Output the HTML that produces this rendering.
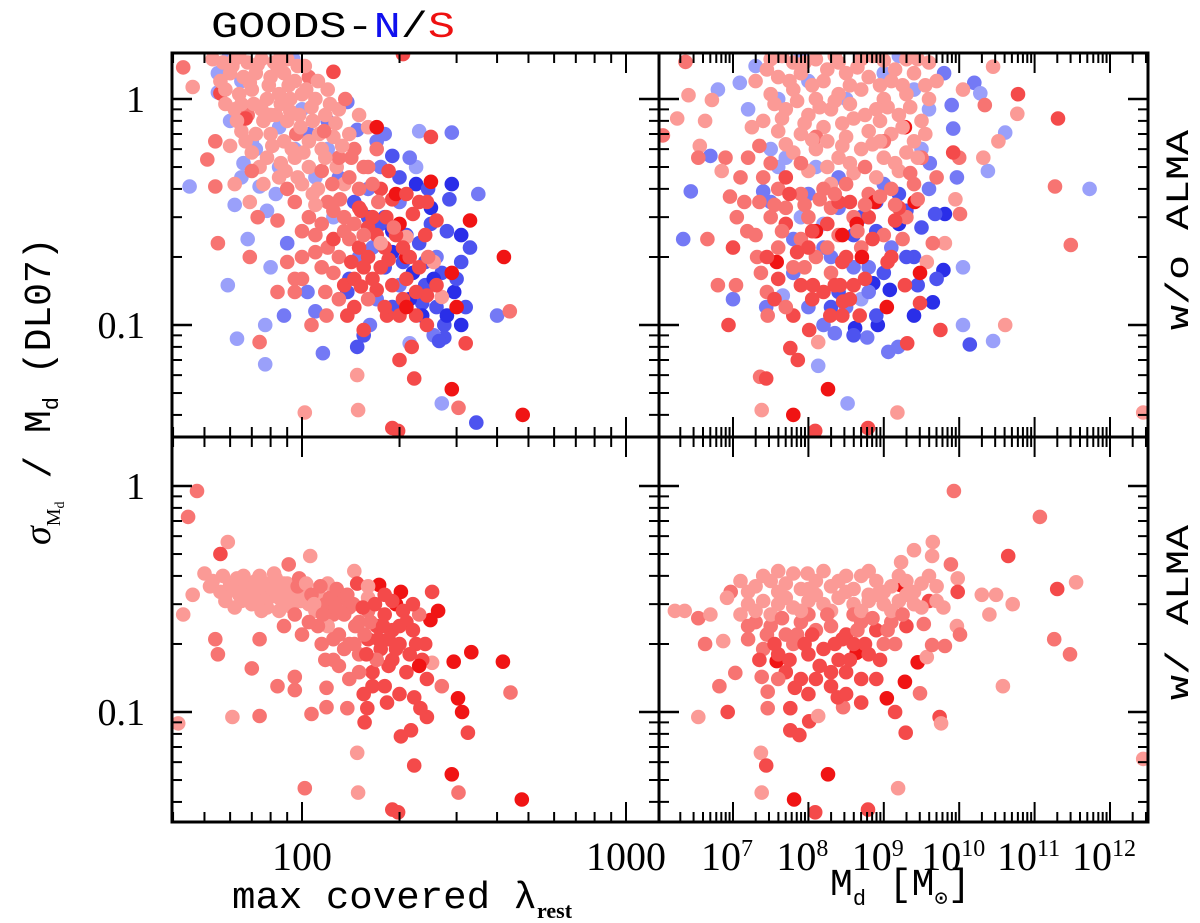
<!DOCTYPE html>
<html><head><meta charset="utf-8"><style>
html,body{margin:0;padding:0;background:#fff;}
svg{display:block;}
</style></head><body>
<svg id="chart" width="1200" height="923" viewBox="0 0 1200 923" xmlns="http://www.w3.org/2000/svg">
<defs>
<clipPath id="cTL"><rect x="172" y="53" width="487" height="384"/></clipPath>
<clipPath id="cTR"><rect x="659" y="53" width="489" height="384"/></clipPath>
<clipPath id="cBL"><rect x="172" y="437" width="487" height="385"/></clipPath>
<clipPath id="cBR"><rect x="659" y="437" width="489" height="385"/></clipPath>
</defs>
<g id="marks"></g>
<g id="axes"></g>
<text x="211" y="37" font-family="Liberation Mono, monospace" font-size="36" textLength="244" lengthAdjust="spacingAndGlyphs"><tspan fill="#000">GOODS-</tspan><tspan fill="#1010ee">N</tspan><tspan fill="#000">/</tspan><tspan fill="#ee1010">S</tspan></text>
<text transform="translate(50,545) rotate(-90)" font-family="Liberation Serif, serif" font-size="38"><tspan font-style="italic">σ</tspan><tspan font-size="20" dy="10">M</tspan><tspan font-size="14" dy="4">d</tspan><tspan dy="-14" font-family="Liberation Mono, monospace"> / M</tspan><tspan font-size="22" dy="8" font-family="Liberation Mono, monospace">d</tspan><tspan dy="-8" font-family="Liberation Mono, monospace"> (DL07)</tspan></text>
<text transform="translate(1188,330) rotate(-90)" font-family="Liberation Mono, monospace" font-size="32" textLength="200" lengthAdjust="spacingAndGlyphs">w/o ALMA</text>
<text transform="translate(1188,700) rotate(-90)" font-family="Liberation Mono, monospace" font-size="32" textLength="175" lengthAdjust="spacingAndGlyphs">w/ ALMA</text>
<text x="232" y="908" font-family="Liberation Mono, monospace" font-size="38"><tspan textLength="305" lengthAdjust="spacingAndGlyphs">max covered λ</tspan><tspan font-size="22" font-weight="bold" dy="10" font-family="Liberation Serif, serif">rest</tspan></text>
<text x="830" y="895" font-family="Liberation Mono, monospace" font-size="38">M<tspan font-size="22" dy="10">d</tspan><tspan dy="-10"> [M</tspan><tspan font-size="22" dy="10">⊙</tspan><tspan dy="-10">]</tspan></text>
</svg>
<script>
// Top-left: max covered lambda_rest vs sigma/Md, w/o ALMA. [lambda, sigma, shade]
const topLeftNorth = [[45,0.41,0],[62,0.34,0],[68,0.24,0],[59,0.15,0],[77,0.10,0],[63,0.087,0],[77,0.067,0],[88,0.11,1],[80,0.18,0],[116,0.075,1],[110,0.115,1],[148,0.08,2],[270,0.045,0],[345,0.037,2],[400,0.11,1],[350,0.38,1],[290,0.42,3],[230,0.72,0],[290,0.71,1],[225,0.5,0],[190,0.56,2],[225,0.42,3],[285,0.36,2],[310,0.25,3],[310,0.19,2],[310,0.10,3],[275,0.10,2],[275,0.088,2],[320,0.12,2],[270,0.17,2],[230,0.23,2],[190,0.21,3],[140,0.16,2],[138,0.14,2],[162,0.10,1],[155,0.09,2],[190,0.12,2],[200,0.15,1],[235,0.125,2],[255,0.09,1],[215,0.083,0],[104,0.14,1],[90,0.23,1],[83,0.38,0],[74,0.41,0],[55,1.3,0],[55,1.07,0],[59,1.5,0],[94,1.5,0],[138,0.97,1],[175,0.5,1],[148,0.73,1],[65,0.45,0],[72,0.6,0],[85,0.75,0],[100,0.9,0],[120,0.6,0],[160,0.4,1],[180,0.3,2],[200,0.35,1],[250,0.28,2],[260,0.2,1],[240,0.15,2],[170,0.13,1],[210,0.25,2],[165,0.22,1],[125,0.3,0],[110,0.45,0],[78,0.32,0],[66,0.52,0],[250,0.33,3],[280,0.26,2],[295,0.14,3],[330,0.22,2],[200,0.45,2],[170,0.65,1]];
const topLeftNorthExtra = [[60,0.8,0],[65,1.2,0],[70,0.65,0],[85,0.5,0],[95,0.6,0],[105,0.7,1],[120,0.8,1],[130,0.45,1],[145,0.35,2],[160,0.3,2],[175,0.28,2],[190,0.26,3],[205,0.19,2],[220,0.17,3],[240,0.19,2],[255,0.16,3],[180,0.18,2],[150,0.2,1],[215,0.13,3],[235,0.11,3],[260,0.12,2],[300,0.16,2],[280,0.11,3],[265,0.085,2],[245,0.4,2],[215,0.55,1],[180,0.7,1]];
const topLeftSouth = [[43,1.38,1],[46,1.13,0],[51,0.54,1],[54,0.65,1],[55,0.23,1],[54,0.41,1],[56,1.06,2],[57,1.45,0],[62,1.5,0],[68,1.45,0],[75,1.5,0],[82,1.45,0],[90,1.5,0],[97,1.4,0],[60,1.3,0],[66,1.25,0],[72,1.3,0],[80,1.25,0],[88,1.3,0],[95,1.2,0],[105,1.25,1],[58,1.1,0],[64,1.05,0],[70,1.1,0],[78,1.0,0],[85,1.05,0],[92,1.0,0],[100,1.05,0],[110,1.0,0],[120,1.1,0],[62,0.9,0],[68,0.85,1],[75,0.9,0],[83,0.85,0],[90,0.8,0],[98,0.85,0],[108,0.8,0],[118,0.85,0],[130,0.9,0],[65,0.72,0],[72,0.7,0],[80,0.7,0],[88,0.65,0],[96,0.7,1],[105,0.65,0],[115,0.6,0],[125,0.68,0],[140,0.7,0],[70,0.58,0],[78,0.55,0],[86,0.52,0],[95,0.55,0],[105,0.5,0],[115,0.48,1],[128,0.5,0],[85,0.45,0],[100,0.42,0],[112,0.4,0],[120,0.35,1],[135,0.42,0],[150,0.85,0],[160,0.75,0],[95,0.35,1],[105,0.3,1],[115,0.28,1],[125,0.32,1],[135,0.3,1],[145,0.28,1],[110,0.25,1],[120,0.22,1],[130,0.2,1],[140,0.24,1],[150,0.22,2],[160,0.2,2],[100,0.2,1],[115,0.18,1],[125,0.17,1],[135,0.15,2],[145,0.16,2],[155,0.18,2],[170,0.25,2],[165,0.3,2],[180,0.22,2],[150,0.4,1],[140,0.45,1],[160,0.5,1],[175,0.4,2],[130,0.55,1],[145,0.6,1],[74,0.084,1],[69,0.2,1],[73,0.3,1],[84,0.29,1],[84,0.14,1],[95,0.14,1],[95,0.16,1],[107,0.1,1],[119,0.11,1],[148,0.06,0],[149,0.042,0],[102,0.041,0],[138,0.11,2],[155,0.095,2],[183,0.11,2],[200,0.11,2],[225,0.11,2],[243,0.1,2],[218,0.08,2],[200,0.07,2],[222,0.058,2],[304,0.043,1],[320,0.083,2],[438,0.115,1],[190,0.035,2],[198,0.034,2],[152,0.148,2],[170,0.143,2],[185,0.195,2],[210,0.16,2],[243,0.135,2],[270,0.133,0],[255,0.19,0],[175,0.23,0],[210,0.245,0],[195,0.25,2],[160,0.27,2],[152,0.32,2],[190,0.36,2],[243,0.35,2],[260,0.29,2],[220,0.31,2],[170,0.75,3],[250,0.43,3],[330,0.29,3],[420,0.2,3],[290,0.17,3],[300,0.12,3],[290,0.052,3],[480,0.04,3],[195,0.38,3],[205,1.58,2],[250,0.68,2],[125,1.32,2],[67,0.82,2],[200,0.28,3],[210,0.2,3]];
const topLeftSouthExtra = [[56,1.2,0],[61,1.4,0],[65,0.95,0],[69,1.18,0],[73,1.42,0],[76,0.8,0],[79,1.15,0],[84,1.38,0],[86,0.95,0],[91,1.15,0],[93,0.6,0],[99,0.75,0],[102,1.4,0],[107,0.92,0],[112,1.2,0],[113,0.7,0],[118,0.55,0],[122,0.95,0],[127,0.78,0],[133,0.62,0],[136,1.0,1],[142,0.55,1],[60,0.62,0],[63,0.8,0],[67,0.65,0],[71,0.95,0],[74,0.5,0],[81,0.62,0],[89,0.48,0],[92,0.88,0],[101,0.58,0],[108,0.38,0],[97,0.45,0],[80,0.85,0],[58,0.95,0],[53,1.5,0],[64,1.55,0],[86,1.55,0],[103,1.1,0],[117,0.72,1],[124,0.42,1],[131,0.36,1],[110,0.34,0],[90,0.4,1],[76,0.42,0],[70,0.48,1],[69,0.35,0],[62,0.42,0],[155,0.5,1],[165,0.42,1],[150,0.33,2],[172,0.35,1],[182,0.3,2],[192,0.27,1],[205,0.22,2],[215,0.2,2],[230,0.18,2],[245,0.2,1],[175,0.18,2],[190,0.15,2],[205,0.13,2],[160,0.13,1],[145,0.12,2],[130,0.13,1],[118,0.14,1],[125,0.24,2],[135,0.26,1],[142,0.19,2],[155,0.25,1],[165,0.16,2],[110,0.21,1],[100,0.26,1],[90,0.19,1],[100,0.16,1],[170,0.6,1],[185,0.48,2],[210,0.38,2],[230,0.35,2],[240,0.25,2],[225,0.14,2],[260,0.15,2],[210,0.12,3],[180,0.12,2]];
// Top-right: log10 Md vs sigma/Md, w/o ALMA. [logMd, sigma, shade]
const topRightNorth = [[6.8,1.1,0],[7.09,1.18,0],[6.7,0.56,1],[6.44,0.39,1],[6.34,0.24,1],[7.0,0.13,1],[7.4,0.39,1],[7.44,0.12,1],[7.66,0.135,0],[8.13,0.066,0],[8.52,0.045,0],[8.35,0.092,1],[8.78,0.088,1],[8.92,0.1,3],[9.06,0.076,1],[9.19,0.08,1],[9.08,0.143,3],[8.86,0.153,3],[8.62,0.097,3],[9.65,0.126,3],[9.79,0.175,3],[9.7,0.16,2],[10.05,0.18,0],[10.05,0.1,0],[10.14,0.082,2],[10.45,0.085,0],[9.81,0.31,3],[9.68,0.31,2],[9.97,0.45,1],[9.92,0.74,1],[9.9,0.94,1],[10.2,1.18,1],[10.28,1.06,0],[10.38,0.48,0],[10.61,0.71,0],[11.73,0.4,0],[9.61,0.52,1],[9.4,0.2,2],[8.9,0.35,2],[8.4,0.33,1],[8.2,0.28,0],[8.6,0.25,2],[9.0,0.42,1],[9.3,0.32,2],[9.5,0.6,0],[9.6,0.9,0],[9.8,1.3,1],[7.9,1.55,0],[8.7,1.55,0],[9.2,1.55,0],[7.3,1.4,0],[7.2,0.9,0],[7.5,0.6,0],[7.6,0.5,0],[7.9,0.3,0],[8.3,0.2,1],[8.8,0.18,1],[8.4,0.14,2],[8.5,0.12,1],[8.0,0.12,1],[8.7,0.13,0],[8.2,0.1,1],[7.8,0.17,1],[9.2,0.28,3],[9.1,0.22,1]];
const topRightNorthExtra = [[7.6,1.0,0],[8.0,1.2,0],[8.5,1.0,0],[9.0,1.3,0],[9.4,1.1,0],[7.7,0.55,0],[8.1,0.5,0],[7.5,0.35,1],[8.0,0.38,1],[8.4,0.45,1],[8.7,0.3,2],[8.9,0.26,2],[9.2,0.38,2],[9.5,0.27,2],[9.3,0.2,2],[9.0,0.17,2],[8.6,0.18,1],[8.2,0.22,1],[7.8,0.24,1],[9.6,0.4,1],[9.45,0.15,2],[8.8,0.14,1],[8.3,0.12,2],[8.9,0.11,2],[9.4,0.11,3],[8.6,0.09,2]];
const topRightSouth = [[7.5,1.5,0],[7.8,1.45,0],[8.1,1.5,0],[8.4,1.45,0],[8.7,1.5,0],[9.0,1.48,0],[9.3,1.5,0],[9.6,1.45,0],[7.6,1.25,0],[7.9,1.3,0],[8.2,1.2,0],[8.5,1.3,0],[8.8,1.25,0],[9.1,1.2,0],[9.4,1.3,0],[7.5,1.05,0],[7.8,1.1,0],[8.1,1.0,0],[8.4,1.05,0],[8.7,1.1,0],[9.0,1.0,0],[9.3,1.05,0],[9.6,1.0,0],[7.7,0.9,0],[8.0,0.85,0],[8.3,0.9,0],[8.6,0.82,0],[8.9,0.9,0],[9.2,0.85,0],[9.5,0.8,0],[7.6,0.72,0],[7.9,0.7,0],[8.2,0.75,0],[8.5,0.68,0],[8.8,0.72,0],[9.1,0.7,0],[9.4,0.65,0],[7.8,0.58,0],[8.1,0.6,0],[8.4,0.55,0],[8.7,0.6,0],[9.0,0.55,0],[9.3,0.58,0],[8.0,0.48,0],[8.6,0.47,0],[8.9,0.45,0],[7.4,0.8,0],[7.3,1.2,0],[9.7,1.2,0],[8.3,0.42,0],[9.2,0.48,0],[7.2,0.55,1],[7.4,0.45,1],[7.6,0.4,1],[7.9,0.38,1],[8.2,0.4,1],[8.5,0.42,1],[8.8,0.38,1],[9.1,0.4,1],[9.4,0.42,1],[7.7,0.33,1],[8.0,0.3,1],[8.3,0.33,1],[8.6,0.3,1],[9.3,0.3,1],[7.5,0.3,1],[7.3,0.25,1],[7.6,0.22,1],[7.9,0.24,1],[8.1,0.2,1],[8.4,0.25,1],[8.7,0.22,1],[9.0,0.25,1],[7.8,0.18,1],[8.3,0.17,1],[7.1,0.45,1],[6.9,0.55,1],[9.5,0.55,1],[9.7,0.45,1],[9.0,0.65,1],[8.1,0.68,1],[7.7,0.28,2],[8.0,0.22,2],[8.25,0.28,2],[8.5,0.2,2],[8.8,0.3,2],[9.1,0.2,2],[7.9,0.15,2],[8.2,0.14,2],[8.6,0.15,2],[9.2,0.33,2],[8.4,0.35,2],[7.7,0.45,2],[6.37,1.46,1],[6.41,1.04,0],[6.26,0.82,0],[6.07,0.69,1],[6.72,0.99,0],[6.63,0.8,0],[6.56,0.62,0],[6.54,0.55,1],[6.85,0.48,0],[6.66,0.24,1],[6.8,0.15,1],[7.04,0.15,1],[6.94,0.1,2],[7.36,0.059,1],[7.44,0.058,2],[7.38,0.042,0],[8.09,0.034,2],[8.79,0.035,2],[7.76,0.079,2],[7.86,0.07,2],[8.01,0.095,2],[8.13,0.084,0],[9.18,0.041,0],[9.31,0.083,2],[9.75,0.095,2],[10.61,0.1,0],[12.44,0.041,0],[11.48,0.226,1],[11.27,0.41,1],[11.31,0.82,2],[10.78,1.05,2],[10.77,0.86,0],[10.45,1.39,0],[10.34,0.94,1],[10.32,0.55,0],[10.52,0.65,0],[10.05,1.1,0],[10.0,0.55,1],[10.01,0.31,1],[9.95,0.36,0],[9.92,0.58,2],[9.81,0.23,0],[9.65,0.23,1],[9.28,0.15,2],[9.48,0.125,2],[9.57,0.19,0],[8.68,0.11,2],[8.45,0.11,2],[8.29,0.11,2],[7.8,0.11,2],[7.46,0.11,1],[7.45,0.14,1],[7.37,0.17,1],[8.06,0.15,2],[8.46,0.127,2],[9.15,0.29,2],[8.42,0.15,2],[6.96,0.37,1],[7.05,0.3,1],[7.19,0.26,1],[7.0,0.22,2],[7.32,0.2,1],[8.64,0.28,3],[8.88,0.35,3],[9.41,0.35,3],[8.71,0.2,3],[7.58,0.19,3],[9.48,0.17,3],[9.28,0.75,3],[9.04,0.12,3],[7.8,0.04,3],[8.26,0.052,3],[8.45,0.25,3],[8.1,0.26,3]];
const topRightSouthExtra = [[7.45,1.35,0],[7.65,1.55,0],[7.75,1.2,0],[7.95,1.45,0],[8.05,1.15,0],[8.25,1.35,0],[8.35,1.55,0],[8.55,1.15,0],[8.65,1.38,0],[8.85,1.55,0],[8.95,1.15,0],[9.15,1.35,0],[9.25,1.15,0],[9.45,1.5,0],[9.55,1.15,0],[7.55,0.95,0],[7.65,0.82,0],[7.85,0.98,0],[7.95,0.78,0],[8.15,0.92,0],[8.25,0.65,0],[8.35,0.98,0],[8.45,0.78,0],[8.55,0.95,0],[8.75,0.85,0],[8.85,0.63,0],[8.95,0.8,0],[9.05,0.92,0],[9.25,0.75,0],[9.35,0.92,0],[9.45,0.55,0],[9.55,0.7,0],[7.7,0.63,0],[7.9,0.52,1],[8.05,0.66,0],[8.25,0.5,0],[8.45,0.62,0],[8.55,0.52,0],[8.75,0.5,1],[8.95,0.65,0],[9.15,0.52,0],[9.35,0.47,1],[7.5,0.52,1],[7.35,0.62,1],[7.25,0.75,0],[7.15,0.35,1],[7.35,0.35,1],[7.55,0.34,1],[7.75,0.38,2],[7.95,0.34,1],[8.15,0.36,1],[8.35,0.38,1],[8.55,0.35,2],[8.75,0.34,1],[8.95,0.37,1],[9.15,0.34,1],[9.45,0.36,1],[7.45,0.2,2],[7.65,0.26,1],[7.85,0.21,2],[8.05,0.26,2],[8.25,0.22,1],[8.45,0.19,2],[8.65,0.26,1],[8.85,0.24,2],[9.05,0.19,2],[9.25,0.24,1],[7.6,0.16,2],[7.95,0.18,1],[8.35,0.15,2],[8.75,0.16,2],[7.55,0.13,2],[8.05,0.13,2],[8.55,0.13,2],[7.7,0.12,1]];
// Bottom-left: w/ ALMA (GOODS-S only)
const bottomLeftSouth = [[47.4,0.95,1],[44.5,0.73,1],[59,0.565,0],[56,0.5,2],[106,0.49,0],[91,0.45,1],[145,0.42,0],[50,0.41,0],[43,0.27,0],[46,0.33,0],[54,0.21,1],[55,0.18,1],[70,0.156,1],[74,0.21,1],[84,0.13,1],[95,0.143,1],[95,0.125,1],[61,0.095,0],[74,0.096,1],[41.5,0.089,0],[102,0.046,1],[107,0.098,1],[119,0.105,1],[119,0.128,1],[138,0.104,1],[159,0.104,2],[156,0.09,2],[148,0.066,0],[149,0.044,0],[190,0.037,2],[198,0.036,2],[222,0.058,2],[290,0.053,3],[304,0.044,1],[477,0.041,3],[202,0.078,2],[217,0.083,2],[325,0.081,2],[312,0.1,3],[303,0.115,3],[243,0.095,2],[232,0.104,2],[222,0.116,2],[183,0.11,2],[440,0.122,1],[417,0.167,3],[333,0.184,3],[294,0.167,3],[270,0.13,1],[252,0.165,0],[243,0.14,2],[252,0.34,2],[263,0.28,3],[249,0.255,3],[202,0.34,3],[195,0.3,3],[173,0.365,3],[148,0.37,2],[160,0.36,0],[52,0.36,0],[56,0.34,0],[60,0.37,0],[64,0.33,0],[68,0.35,0],[72,0.38,0],[76,0.34,0],[80,0.36,0],[85,0.32,0],[90,0.37,0],[95,0.33,0],[58,0.31,0],[62,0.29,0],[70,0.3,0],[78,0.29,0],[88,0.3,0],[100,0.34,0],[105,0.3,0],[112,0.33,0],[120,0.37,0],[66,0.4,0],[82,0.41,0],[98,0.39,1],[110,0.28,0],[118,0.3,1],[125,0.27,1],[132,0.32,1],[140,0.29,1],[150,0.25,1],[160,0.28,1],[170,0.24,2],[180,0.27,2],[190,0.23,2],[210,0.25,2],[130,0.22,1],[140,0.2,1],[150,0.18,1],[160,0.21,2],[175,0.19,2],[190,0.17,2],[200,0.2,2],[210,0.15,2],[165,0.15,2],[180,0.13,2],[225,0.2,2],[235,0.17,2],[115,0.2,1],[125,0.17,1],[100,0.22,1],[88,0.24,1],[140,0.14,1],[155,0.12,2],[200,0.12,2],[230,0.27,1],[120,0.24,0],[160,0.32,0],[220,0.3,2]];
const bottomLeftSouthExtra = [[53,0.38,0],[57,0.4,0],[58,0.33,0],[61,0.36,0],[63,0.39,0],[65,0.31,0],[67,0.37,0],[69,0.33,0],[71,0.36,0],[73,0.31,0],[74,0.4,0],[77,0.37,0],[79,0.32,0],[81,0.35,0],[83,0.39,0],[86,0.34,0],[88,0.37,0],[91,0.33,0],[93,0.29,0],[97,0.36,1],[99,0.31,0],[103,0.37,0],[107,0.33,1],[109,0.3,0],[114,0.36,1],[116,0.27,1],[122,0.32,1],[127,0.29,1],[128,0.35,1],[135,0.27,1],[138,0.33,1],[144,0.3,1],[146,0.24,1],[154,0.29,2],[156,0.22,1],[163,0.25,1],[168,0.3,2],[172,0.21,2],[178,0.24,2],[185,0.21,2],[195,0.19,2],[200,0.24,2],[215,0.18,2],[185,0.16,2],[170,0.17,1],[158,0.18,2],[145,0.2,1],[135,0.19,1],[125,0.21,1],[112,0.24,1],[105,0.25,1],[95,0.27,1],[85,0.28,0],[75,0.28,0],[220,0.23,2],[230,0.16,3],[240,0.2,2],[205,0.28,2],[190,0.31,2],[180,0.33,2],[150,0.15,1],[165,0.13,2],[130,0.16,1],[118,0.17,1]];
// Bottom-right: log10 Md vs sigma/Md, w/ ALMA
const bottomRightSouth = [[9.93,0.95,1],[11.07,0.73,1],[10.65,0.49,2],[11.3,0.35,2],[11.55,0.375,0],[11.26,0.21,1],[11.47,0.18,1],[10.58,0.13,0],[10.71,0.3,0],[10.4,0.27,0],[10.49,0.33,0],[10.3,0.33,0],[12.44,0.062,0],[6.23,0.28,0],[6.36,0.28,0],[6.54,0.26,1],[6.7,0.27,0],[6.63,0.2,1],[6.87,0.206,0],[6.54,0.095,0],[6.93,0.1,2],[6.82,0.13,1],[7.03,0.149,1],[6.97,0.34,1],[6.92,0.32,0],[7.37,0.066,0],[7.44,0.058,2],[7.38,0.044,0],[7.81,0.041,3],[8.09,0.036,2],[8.79,0.037,2],[8.26,0.053,3],[9.19,0.046,0],[7.76,0.083,2],[7.88,0.079,2],[8.01,0.091,2],[8.13,0.096,0],[9.29,0.081,2],[9.74,0.095,2],[9.76,0.089,0],[9.15,0.1,2],[9.04,0.115,3],[8.7,0.11,2],[8.46,0.105,1],[8.39,0.116,2],[7.46,0.104,1],[7.76,0.104,2],[7.82,0.128,2],[7.46,0.123,1],[7.38,0.143,1],[9.28,0.136,3],[9.48,0.121,1],[9.45,0.166,3],[9.57,0.175,0],[9.64,0.198,1],[9.81,0.196,1],[8.64,0.183,3],[7.58,0.168,3],[9.22,0.365,3],[9.89,0.45,1],[9.98,0.39,0],[9.98,0.34,2],[9.79,0.29,0],[9.97,0.24,0],[10.01,0.22,1],[9.65,0.565,0],[9.64,0.49,0],[9.4,0.52,0],[9.23,0.46,0],[9.53,0.245,1],[9.6,0.31,2],[7.99,0.41,0],[7.1,0.38,0],[7.3,0.36,0],[7.5,0.38,0],[7.7,0.37,0],[7.9,0.35,0],[8.1,0.38,0],[8.3,0.36,0],[8.5,0.4,0],[8.7,0.4,0],[8.9,0.38,0],[9.1,0.36,0],[9.3,0.38,0],[9.5,0.37,0],[9.7,0.36,0],[7.2,0.3,0],[7.4,0.31,0],[7.6,0.3,0],[7.8,0.29,0],[8.0,0.31,0],[8.2,0.3,0],[8.4,0.32,0],[8.6,0.3,0],[8.8,0.31,0],[9.0,0.3,0],[9.2,0.31,0],[9.4,0.3,0],[7.3,0.25,1],[7.5,0.24,1],[7.7,0.22,1],[7.9,0.25,1],[8.1,0.23,1],[8.3,0.24,1],[8.5,0.22,2],[8.7,0.25,1],[8.9,0.23,2],[9.1,0.25,1],[9.3,0.24,2],[7.4,0.19,1],[7.6,0.18,2],[7.8,0.2,1],[8.0,0.18,2],[8.2,0.19,2],[8.4,0.17,2],[8.6,0.2,2],[8.8,0.18,2],[9.0,0.2,1],[7.7,0.15,2],[8.1,0.14,2],[8.5,0.15,2],[8.9,0.14,2],[7.2,0.21,1],[8.3,0.13,2],[8.0,0.27,1],[8.6,0.27,1],[8.8,0.33,0],[7.6,0.42,0]];
const bottomRightSouthExtra = [[7.2,0.34,0],[7.4,0.4,0],[7.6,0.34,0],[7.8,0.41,0],[8.0,0.35,0],[8.2,0.42,0],[8.4,0.38,0],[8.6,0.35,0],[8.8,0.42,0],[9.0,0.34,0],[9.2,0.4,0],[9.4,0.34,0],[9.6,0.4,0],[7.1,0.27,0],[7.3,0.28,0],[7.5,0.27,0],[7.7,0.32,0],[7.9,0.28,0],[8.1,0.33,0],[8.3,0.28,0],[8.5,0.34,0],[8.7,0.28,0],[8.9,0.33,0],[9.1,0.28,0],[9.3,0.33,0],[9.5,0.29,0],[9.7,0.31,0],[7.2,0.24,1],[7.45,0.22,1],[7.65,0.26,1],[7.85,0.22,1],[8.05,0.22,2],[8.25,0.27,1],[8.45,0.21,2],[8.65,0.23,1],[8.85,0.26,1],[9.05,0.23,1],[9.25,0.27,1],[7.35,0.17,2],[7.55,0.2,2],[7.75,0.17,2],[7.95,0.2,2],[8.15,0.16,2],[8.35,0.2,2],[8.55,0.17,2],[8.75,0.2,2],[8.95,0.17,2],[9.15,0.2,1],[7.9,0.14,2],[8.3,0.15,2],[8.7,0.14,2],[7.6,0.14,1],[8.0,0.12,2],[8.5,0.12,2]];

const redShades = ['#fb9a96','#f77472','#f44a4a','#f01414'];
const blueShades = ['#9aa0fa','#7479f5','#4d53ef','#2a2ee8'];

const NS = 'http://www.w3.org/2000/svg';
const marks = document.getElementById('marks');
const axes = document.getElementById('axes');

const L = 172, M = 659, R = 1148, T = 53, MID = 437, B = 822;
function xLam(v){ return 302 + 324 * (Math.log10(v) - 2); }
function xMd(lg){ return 733 + 75.4 * (lg - 7); }
function yTop(s){ return 99 - 226 * Math.log10(s); }
function yBot(s){ return 486 - 226 * Math.log10(s); }

function el(tag, attrs, parent){
  const e = document.createElementNS(NS, tag);
  for (const k in attrs) e.setAttribute(k, attrs[k]);
  parent.appendChild(e);
  return e;
}

function drawSeries(data, xf, yf, palette, clip, name){
  const g = el('g', {'clip-path': 'url(#' + clip + ')'}, marks);
  
  
  data.forEach(d => {
    const c = el('circle', {cx: xf(d[0]).toFixed(1), cy: yf(d[1]).toFixed(1), r: 7.3, fill: palette[d[2]]}, g);
    
    
  });
}
drawSeries(topLeftNorth.concat(topLeftNorthExtra), xLam, yTop, blueShades, 'cTL', 'goods-n-top-left');
drawSeries(topLeftSouth.concat(topLeftSouthExtra), xLam, yTop, redShades, 'cTL', 'goods-s-top-left');
drawSeries(topRightNorth.concat(topRightNorthExtra), xMd, yTop, blueShades, 'cTR', 'goods-n-top-right');
drawSeries(topRightSouth.concat(topRightSouthExtra), xMd, yTop, redShades, 'cTR', 'goods-s-top-right');
drawSeries(bottomLeftSouth.concat(bottomLeftSouthExtra), xLam, yBot, redShades, 'cBL', 'goods-s-bottom-left');
drawSeries(bottomRightSouth.concat(bottomRightSouthExtra), xMd, yBot, redShades, 'cBR', 'goods-s-bottom-right');

function line(x1,y1,x2,y2,w){ return el('line',{x1:x1,y1:y1,x2:x2,y2:y2,stroke:'#000','stroke-width':w||2}, axes); }

const frame = el('g', {}, axes);


el('rect',{x:L,y:T,width:R-L,height:B-T,fill:'none',stroke:'#000','stroke-width':3}, frame);
el('line',{x1:M,y1:T,x2:M,y2:B,stroke:'#000','stroke-width':3}, frame);
el('line',{x1:L,y1:MID,x2:R,y2:MID,stroke:'#000','stroke-width':3}, frame);

const yMajors = [1, 0.1];
const yMinors = [0.04,0.05,0.06,0.07,0.08,0.09,0.2,0.3,0.4,0.5,0.6,0.7,0.8,0.9];
[yTop, yBot].forEach(yf => {
  yMajors.forEach(v => { const y = yf(v); line(L,y,L+20,y,2.5); line(M-20,y,M+20,y,2.5); line(R-20,y,R,y,2.5); });
  yMinors.forEach(v => { const y = yf(v); line(L,y,L+10,y); line(M-10,y,M+10,y); line(R-10,y,R,y); });
});
const lamTicks = [40,50,60,70,80,90,100,200,300,400,500,600,700,800,900,1000];
lamTicks.forEach(v => {
  const x = xLam(v); const maj = (v===100||v===1000); const len = maj?20:10;
  line(x,T,x,T+len); line(x,MID-len,x,MID+len); line(x,B-len,x,B);
});
for (let d = 6; d <= 12; d++){
  for (let k = 1; k <= 9; k++){
    const lg = d + Math.log10(k); if (lg < 6.03 || lg > 12.5) continue;
    const x = xMd(lg); const len = k===1?20:10;
    line(x,T,x,T+len); line(x,MID-len,x,MID+len); line(x,B-len,x,B);
  }
}
const yTickLabels = ['1','0.1'];
[yTop, yBot].forEach((yf) => {
  yMajors.forEach((v, i) => {
    const t = el('text',{x:145,y:(yf(v)+13).toFixed(1),'text-anchor':'end','font-family':'Liberation Serif, serif','font-size':38}, axes);
    t.textContent = yTickLabels[i];
    
    
  });
});
const lamLabels = [100, 1000];
lamLabels.forEach(v => {
  const t = el('text',{x:xLam(v),y:870,'text-anchor':'middle','font-family':'Liberation Serif, serif','font-size':40}, axes);
  t.textContent = String(v);
  
  
});
const mdExponents = [7,8,9,10,11,12];
mdExponents.forEach(e => {
  const t = el('text',{x:xMd(e)-6,y:870,'text-anchor':'middle','font-family':'Liberation Serif, serif','font-size':40}, axes);
  
  
  const a = el('tspan',{}, t); a.textContent = '10';
  const b = el('tspan',{dy:-14,'font-size':24}, t); b.textContent = String(e);
});
</script>
</body></html>
